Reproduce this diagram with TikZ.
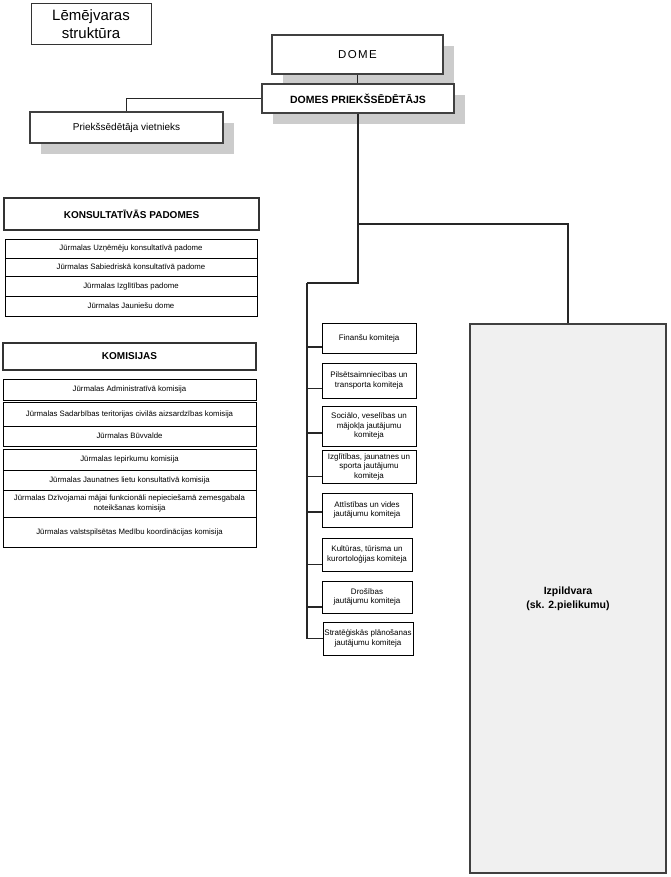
\documentclass[tikz,border=0pt]{standalone}
\usepackage{fontspec}
\setmainfont{Liberation Sans}
\newcommand\mybx[7]{\node[#1, minimum width={(#5-#3)*1pt}, minimum height={(#6-#4)*1pt}] (#2) at ({(#3+#5)/2},{(#4+#6)/2}) {#7};}
\newcommand\myshadow[4]{\fill[black!20] ({#1+11},{#2+11}) rectangle ({#3+11},{#4+11});}
\begin{document}
\begin{tikzpicture}[x=1pt,y=-1pt,
  every node/.style={inner sep=0pt, align=center},
  titlebox/.style={draw=black!80, line width=1pt, fill=white, font=\fontsize{15}{18}\selectfont},
  mainbox/.style={draw=black!75, line width=2pt, fill=white},
  headbox/.style={draw=black!80, line width=2.6pt, fill=white, font=\bfseries\fontsize{10}{12}\selectfont},
  headinner/.style={draw=white, line width=1pt},
  itembox/.style={draw=black, line width=0.6pt, fill=white, font=\fontsize{7.8}{10}\selectfont},
  combox/.style={draw=black, line width=0.7pt, fill=white, font=\fontsize{8}{9.5}\selectfont},
  izpbox/.style={draw=black!75, line width=1.5pt, fill=black!6, font=\bfseries\fontsize{10.5}{14}\selectfont},
  conn/.style={draw=black!85, line width=1.2pt},
]
\useasboundingbox (0,0) rectangle (670,877);

% title
\mybx{titlebox}{title}{31}{4}{151}{45}{Lēmējvaras\\struktūra}

% main boxes with shadows
\myshadow{272}{35}{443}{74}
\mybx{mainbox}{dome}{272}{35}{443}{74}{\fontsize{11.5}{13}\selectfont\addfontfeature{LetterSpace=12}DOME}
\myshadow{262}{84}{454}{113}
\mybx{mainbox, font=\bfseries\fontsize{10.5}{12}\selectfont}{pres}{262}{84}{454}{113}{DOMES PRIEKŠSĒDĒTĀJS}
\myshadow{30}{112}{223}{143}
\mybx{mainbox, font=\fontsize{10}{12}\selectfont}{vice}{30}{112}{223}{143}{Priekšsēdētāja vietnieks}

% konsultativas padomes
\mybx{headbox}{khead}{4}{198}{259}{230}{KONSULTATĪVĀS PADOMES}
\draw[headinner] (khead.north west) rectangle (khead.south east);
\mybx{itembox}{k1}{5}{239}{257}{258}{Jūrmalas Uzņēmēju konsultatīvā padome}
\mybx{itembox}{k2}{5}{258}{257}{276}{Jūrmalas Sabiedriskā konsultatīvā padome}
\mybx{itembox}{k3}{5}{276}{257}{296}{Jūrmalas Izglītības padome}
\mybx{itembox}{k4}{5}{296}{257}{316}{Jūrmalas Jauniešu dome}

% komisijas
\mybx{headbox}{mhead}{3}{343}{256}{370}{KOMISIJAS}
\draw[headinner] (mhead.north west) rectangle (mhead.south east);
\mybx{itembox}{m1}{3}{379}{256}{400}{Jūrmalas Administratīvā komisija}
\mybx{itembox}{m2}{3}{402}{256}{426}{Jūrmalas Sadarbības teritorijas civilās aizsardzības komisija}
\mybx{itembox}{m3}{3}{426}{256}{446}{Jūrmalas Būvvalde}
\mybx{itembox}{m4}{3}{449}{256}{470}{Jūrmalas Iepirkumu komisija}
\mybx{itembox}{m5}{3}{470}{256}{490}{Jūrmalas Jaunatnes lietu konsultatīvā komisija}
\mybx{itembox}{m6}{3}{490}{256}{517}{Jūrmalas Dzīvojamai mājai funkcionāli nepieciešamā zemesgabala\\noteikšanas komisija}
\mybx{itembox}{m7}{3}{517}{256}{547}{Jūrmalas valstspilsētas Medību koordinācijas komisija}

% komitejas
\mybx{combox}{c1}{322}{323}{416}{353}{Finanšu komiteja}
\mybx{combox}{c2}{322}{363}{416}{398}{Pilsētsaimniecības un\\transporta komiteja}
\mybx{combox}{c3}{322}{406}{416}{446}{Sociālo, veselības un\\mājokļa jautājumu\\komiteja}
\mybx{combox}{c4}{322}{450}{416}{483}{Izglītības, jaunatnes un\\sporta jautājumu\\komiteja}
\mybx{combox}{c5}{322}{493}{412}{527}{Attīstības un vides\\jautājumu komiteja}
\mybx{combox}{c6}{322}{538}{412}{571}{Kultūras, tūrisma un\\kurortoloģijas komiteja}
\mybx{combox}{c7}{322}{581}{412}{613}{Drošības\\jautājumu komiteja}
\mybx{combox}{c8}{323}{622}{413}{655}{Stratēģiskās plānošanas\\jautājumu komiteja}

% izpildvara
\mybx{izpbox}{izp}{470}{324}{666}{873}{Izpildvara\\(sk. 2.pielikumu)}

% connectors
\coordinate (j1) at (358,224);
\coordinate (j2) at (358,283);
\coordinate (b0) at (307,283);
\draw[conn] (dome.south) -- (dome.south |- pres.north);
\draw[conn] (pres.west) -| (vice.north);
\draw[conn] (pres.south) -- (j1) -| (izp.north);
\draw[conn] (j1) -- (j2) -- (b0);
\draw[conn] (b0) |- ([yshift=-9pt]c1.west);
\draw[conn] (b0) |- ([yshift=-8pt]c2.west);
\draw[conn] (b0) |- ([yshift=-7pt]c3.west);
\draw[conn] (b0) |- ([yshift=-10pt]c4.west);
\draw[conn] (b0) |- ([yshift=-2pt]c5.west);
\draw[conn] (b0) |- ([yshift=-10pt]c6.west);
\draw[conn] (b0) |- ([yshift=-10pt]c7.west);
\draw[conn] (b0) |- (c8.west);
\end{tikzpicture}
\end{document}
